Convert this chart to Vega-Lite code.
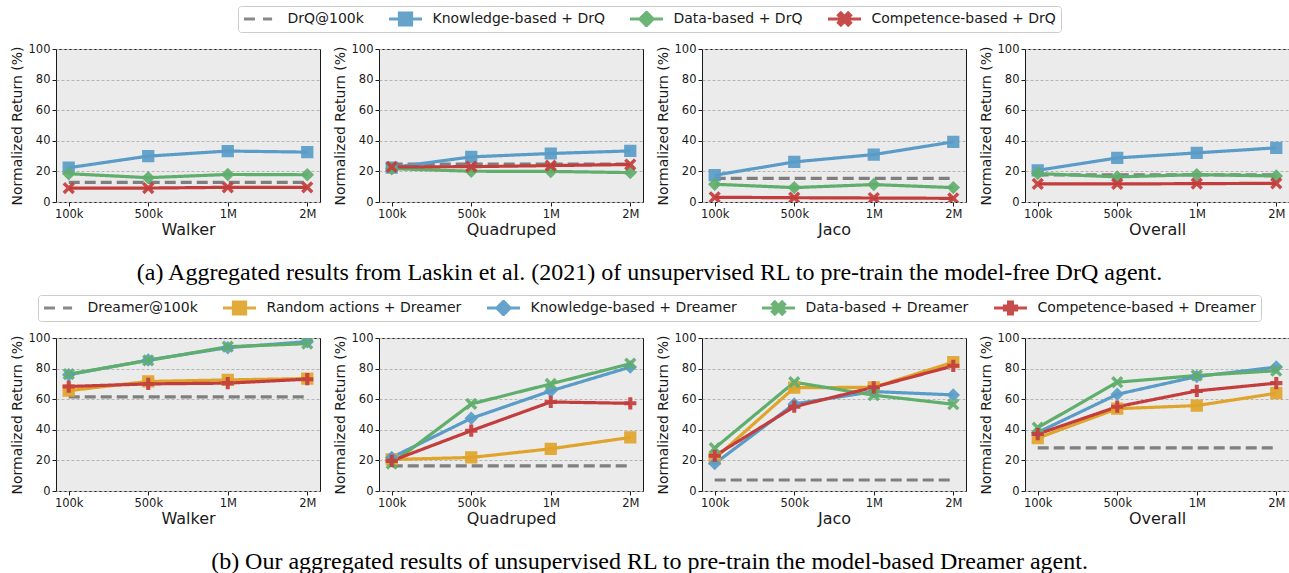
{
  "$schema": "https://vega.github.io/schema/vega-lite/v6.json",
  "padding": {"left": 9, "top": 5, "right": 0, "bottom": 0},
  "background": "white",
  "config": {
    "font": "DejaVu Sans",
    "view": {"fill": "#ebebeb", "stroke": "#1a1a1a", "strokeWidth": 1},
    "axis": {"domain": false, "tickColor": "#1a1a1a", "tickSize": 4, "labelColor": "#1a1a1a", "labelFontSize": 11.5, "labelFont": "DejaVu Sans", "titleFont": "DejaVu Sans", "titleFontWeight": "normal", "titleColor": "#1a1a1a", "labelPadding": 2},
    "axisX": {"grid": false, "titleFontSize": 16, "labelAngle": 0, "titlePadding": 2},
    "axisY": {"gridDash": [3, 2], "gridColor": "#b5b5b5", "titleFontSize": 14, "titlePadding": 4, "tickCount": 5},
    "legend": {"layout": {"top": {"anchor": "middle"}}}
  },
  "datasets": {
    "drq": [
      {"env": "Walker", "step": "100k", "method": "DrQ@100k", "value": 12.8},
      {"env": "Walker", "step": "500k", "method": "DrQ@100k", "value": 12.8},
      {"env": "Walker", "step": "1M", "method": "DrQ@100k", "value": 12.8},
      {"env": "Walker", "step": "2M", "method": "DrQ@100k", "value": 12.8},
      {"env": "Walker", "step": "100k", "method": "Knowledge-based + DrQ", "value": 22.4},
      {"env": "Walker", "step": "500k", "method": "Knowledge-based + DrQ", "value": 30},
      {"env": "Walker", "step": "1M", "method": "Knowledge-based + DrQ", "value": 33.3},
      {"env": "Walker", "step": "2M", "method": "Knowledge-based + DrQ", "value": 32.6},
      {"env": "Walker", "step": "100k", "method": "Data-based + DrQ", "value": 18.5},
      {"env": "Walker", "step": "500k", "method": "Data-based + DrQ", "value": 15.9},
      {"env": "Walker", "step": "1M", "method": "Data-based + DrQ", "value": 18},
      {"env": "Walker", "step": "2M", "method": "Data-based + DrQ", "value": 17.8},
      {"env": "Walker", "step": "100k", "method": "Competence-based + DrQ", "value": 9.1},
      {"env": "Walker", "step": "500k", "method": "Competence-based + DrQ", "value": 9.1},
      {"env": "Walker", "step": "1M", "method": "Competence-based + DrQ", "value": 9.6},
      {"env": "Walker", "step": "2M", "method": "Competence-based + DrQ", "value": 9.6},
      {"env": "Quadruped", "step": "100k", "method": "DrQ@100k", "value": 24.7},
      {"env": "Quadruped", "step": "500k", "method": "DrQ@100k", "value": 24.7},
      {"env": "Quadruped", "step": "1M", "method": "DrQ@100k", "value": 24.7},
      {"env": "Quadruped", "step": "2M", "method": "DrQ@100k", "value": 24.7},
      {"env": "Quadruped", "step": "100k", "method": "Knowledge-based + DrQ", "value": 22.5},
      {"env": "Quadruped", "step": "500k", "method": "Knowledge-based + DrQ", "value": 29.5},
      {"env": "Quadruped", "step": "1M", "method": "Knowledge-based + DrQ", "value": 31.7},
      {"env": "Quadruped", "step": "2M", "method": "Knowledge-based + DrQ", "value": 33.4},
      {"env": "Quadruped", "step": "100k", "method": "Data-based + DrQ", "value": 21.8},
      {"env": "Quadruped", "step": "500k", "method": "Data-based + DrQ", "value": 20.1},
      {"env": "Quadruped", "step": "1M", "method": "Data-based + DrQ", "value": 20},
      {"env": "Quadruped", "step": "2M", "method": "Data-based + DrQ", "value": 19.2},
      {"env": "Quadruped", "step": "100k", "method": "Competence-based + DrQ", "value": 22.9},
      {"env": "Quadruped", "step": "500k", "method": "Competence-based + DrQ", "value": 23.1},
      {"env": "Quadruped", "step": "1M", "method": "Competence-based + DrQ", "value": 23.8},
      {"env": "Quadruped", "step": "2M", "method": "Competence-based + DrQ", "value": 24.5},
      {"env": "Jaco", "step": "100k", "method": "DrQ@100k", "value": 15.5},
      {"env": "Jaco", "step": "500k", "method": "DrQ@100k", "value": 15.5},
      {"env": "Jaco", "step": "1M", "method": "DrQ@100k", "value": 15.5},
      {"env": "Jaco", "step": "2M", "method": "DrQ@100k", "value": 15.5},
      {"env": "Jaco", "step": "100k", "method": "Knowledge-based + DrQ", "value": 17.5},
      {"env": "Jaco", "step": "500k", "method": "Knowledge-based + DrQ", "value": 26.2},
      {"env": "Jaco", "step": "1M", "method": "Knowledge-based + DrQ", "value": 31},
      {"env": "Jaco", "step": "2M", "method": "Knowledge-based + DrQ", "value": 39.3},
      {"env": "Jaco", "step": "100k", "method": "Data-based + DrQ", "value": 11.6},
      {"env": "Jaco", "step": "500k", "method": "Data-based + DrQ", "value": 9.4},
      {"env": "Jaco", "step": "1M", "method": "Data-based + DrQ", "value": 11.4},
      {"env": "Jaco", "step": "2M", "method": "Data-based + DrQ", "value": 9.4},
      {"env": "Jaco", "step": "100k", "method": "Competence-based + DrQ", "value": 3.1},
      {"env": "Jaco", "step": "500k", "method": "Competence-based + DrQ", "value": 2.8},
      {"env": "Jaco", "step": "1M", "method": "Competence-based + DrQ", "value": 2.6},
      {"env": "Jaco", "step": "2M", "method": "Competence-based + DrQ", "value": 2.4},
      {"env": "Overall", "step": "100k", "method": "DrQ@100k", "value": 17.7},
      {"env": "Overall", "step": "500k", "method": "DrQ@100k", "value": 17.7},
      {"env": "Overall", "step": "1M", "method": "DrQ@100k", "value": 17.7},
      {"env": "Overall", "step": "2M", "method": "DrQ@100k", "value": 17.7},
      {"env": "Overall", "step": "100k", "method": "Knowledge-based + DrQ", "value": 20.7},
      {"env": "Overall", "step": "500k", "method": "Knowledge-based + DrQ", "value": 28.8},
      {"env": "Overall", "step": "1M", "method": "Knowledge-based + DrQ", "value": 32.1},
      {"env": "Overall", "step": "2M", "method": "Knowledge-based + DrQ", "value": 35.4},
      {"env": "Overall", "step": "100k", "method": "Data-based + DrQ", "value": 18.6},
      {"env": "Overall", "step": "500k", "method": "Data-based + DrQ", "value": 16.4},
      {"env": "Overall", "step": "1M", "method": "Data-based + DrQ", "value": 17.9},
      {"env": "Overall", "step": "2M", "method": "Data-based + DrQ", "value": 17},
      {"env": "Overall", "step": "100k", "method": "Competence-based + DrQ", "value": 11.8},
      {"env": "Overall", "step": "500k", "method": "Competence-based + DrQ", "value": 11.8},
      {"env": "Overall", "step": "1M", "method": "Competence-based + DrQ", "value": 12},
      {"env": "Overall", "step": "2M", "method": "Competence-based + DrQ", "value": 12.2}
    ],
    "dreamer": [
      {"env": "Walker", "step": "100k", "method": "Dreamer@100k", "value": 61.5},
      {"env": "Walker", "step": "500k", "method": "Dreamer@100k", "value": 61.5},
      {"env": "Walker", "step": "1M", "method": "Dreamer@100k", "value": 61.5},
      {"env": "Walker", "step": "2M", "method": "Dreamer@100k", "value": 61.5},
      {"env": "Walker", "step": "100k", "method": "Random actions + Dreamer", "value": 65.6},
      {"env": "Walker", "step": "500k", "method": "Random actions + Dreamer", "value": 71.6},
      {"env": "Walker", "step": "1M", "method": "Random actions + Dreamer", "value": 72.6},
      {"env": "Walker", "step": "2M", "method": "Random actions + Dreamer", "value": 73.5},
      {"env": "Walker", "step": "100k", "method": "Knowledge-based + Dreamer", "value": 76},
      {"env": "Walker", "step": "500k", "method": "Knowledge-based + Dreamer", "value": 85.6},
      {"env": "Walker", "step": "1M", "method": "Knowledge-based + Dreamer", "value": 93.7},
      {"env": "Walker", "step": "2M", "method": "Knowledge-based + Dreamer", "value": 97.6},
      {"env": "Walker", "step": "100k", "method": "Data-based + Dreamer", "value": 76.4},
      {"env": "Walker", "step": "500k", "method": "Data-based + Dreamer", "value": 85.3},
      {"env": "Walker", "step": "1M", "method": "Data-based + Dreamer", "value": 94.3},
      {"env": "Walker", "step": "2M", "method": "Data-based + Dreamer", "value": 96.3},
      {"env": "Walker", "step": "100k", "method": "Competence-based + Dreamer", "value": 68.3},
      {"env": "Walker", "step": "500k", "method": "Competence-based + Dreamer", "value": 70},
      {"env": "Walker", "step": "1M", "method": "Competence-based + Dreamer", "value": 70.5},
      {"env": "Walker", "step": "2M", "method": "Competence-based + Dreamer", "value": 73.1},
      {"env": "Quadruped", "step": "100k", "method": "Dreamer@100k", "value": 16.4},
      {"env": "Quadruped", "step": "500k", "method": "Dreamer@100k", "value": 16.4},
      {"env": "Quadruped", "step": "1M", "method": "Dreamer@100k", "value": 16.4},
      {"env": "Quadruped", "step": "2M", "method": "Dreamer@100k", "value": 16.4},
      {"env": "Quadruped", "step": "100k", "method": "Random actions + Dreamer", "value": 20.6},
      {"env": "Quadruped", "step": "500k", "method": "Random actions + Dreamer", "value": 21.9},
      {"env": "Quadruped", "step": "1M", "method": "Random actions + Dreamer", "value": 27.6},
      {"env": "Quadruped", "step": "2M", "method": "Random actions + Dreamer", "value": 35},
      {"env": "Quadruped", "step": "100k", "method": "Knowledge-based + Dreamer", "value": 21.9},
      {"env": "Quadruped", "step": "500k", "method": "Knowledge-based + Dreamer", "value": 47.5},
      {"env": "Quadruped", "step": "1M", "method": "Knowledge-based + Dreamer", "value": 65.4},
      {"env": "Quadruped", "step": "2M", "method": "Knowledge-based + Dreamer", "value": 81},
      {"env": "Quadruped", "step": "100k", "method": "Data-based + Dreamer", "value": 17.9},
      {"env": "Quadruped", "step": "500k", "method": "Data-based + Dreamer", "value": 56.9},
      {"env": "Quadruped", "step": "1M", "method": "Data-based + Dreamer", "value": 70},
      {"env": "Quadruped", "step": "2M", "method": "Data-based + Dreamer", "value": 83.2},
      {"env": "Quadruped", "step": "100k", "method": "Competence-based + Dreamer", "value": 19.7},
      {"env": "Quadruped", "step": "500k", "method": "Competence-based + Dreamer", "value": 39.4},
      {"env": "Quadruped", "step": "1M", "method": "Competence-based + Dreamer", "value": 58.2},
      {"env": "Quadruped", "step": "2M", "method": "Competence-based + Dreamer", "value": 57.3},
      {"env": "Jaco", "step": "100k", "method": "Dreamer@100k", "value": 7.2},
      {"env": "Jaco", "step": "500k", "method": "Dreamer@100k", "value": 7.2},
      {"env": "Jaco", "step": "1M", "method": "Dreamer@100k", "value": 7.2},
      {"env": "Jaco", "step": "2M", "method": "Dreamer@100k", "value": 7.2},
      {"env": "Jaco", "step": "100k", "method": "Random actions + Dreamer", "value": 21.2},
      {"env": "Jaco", "step": "500k", "method": "Random actions + Dreamer", "value": 67.5},
      {"env": "Jaco", "step": "1M", "method": "Random actions + Dreamer", "value": 67.8},
      {"env": "Jaco", "step": "2M", "method": "Random actions + Dreamer", "value": 84.2},
      {"env": "Jaco", "step": "100k", "method": "Knowledge-based + Dreamer", "value": 17.9},
      {"env": "Jaco", "step": "500k", "method": "Knowledge-based + Dreamer", "value": 56.9},
      {"env": "Jaco", "step": "1M", "method": "Knowledge-based + Dreamer", "value": 65},
      {"env": "Jaco", "step": "2M", "method": "Knowledge-based + Dreamer", "value": 62.8},
      {"env": "Jaco", "step": "100k", "method": "Data-based + Dreamer", "value": 28},
      {"env": "Jaco", "step": "500k", "method": "Data-based + Dreamer", "value": 71.1},
      {"env": "Jaco", "step": "1M", "method": "Data-based + Dreamer", "value": 62.6},
      {"env": "Jaco", "step": "2M", "method": "Data-based + Dreamer", "value": 56.7},
      {"env": "Jaco", "step": "100k", "method": "Competence-based + Dreamer", "value": 23},
      {"env": "Jaco", "step": "500k", "method": "Competence-based + Dreamer", "value": 55.1},
      {"env": "Jaco", "step": "1M", "method": "Competence-based + Dreamer", "value": 67.8},
      {"env": "Jaco", "step": "2M", "method": "Competence-based + Dreamer", "value": 81.8},
      {"env": "Overall", "step": "100k", "method": "Dreamer@100k", "value": 28.2},
      {"env": "Overall", "step": "500k", "method": "Dreamer@100k", "value": 28.2},
      {"env": "Overall", "step": "1M", "method": "Dreamer@100k", "value": 28.2},
      {"env": "Overall", "step": "2M", "method": "Dreamer@100k", "value": 28.2},
      {"env": "Overall", "step": "100k", "method": "Random actions + Dreamer", "value": 34.6},
      {"env": "Overall", "step": "500k", "method": "Random actions + Dreamer", "value": 53.8},
      {"env": "Overall", "step": "1M", "method": "Random actions + Dreamer", "value": 55.8},
      {"env": "Overall", "step": "2M", "method": "Random actions + Dreamer", "value": 63.9},
      {"env": "Overall", "step": "100k", "method": "Knowledge-based + Dreamer", "value": 38.3},
      {"env": "Overall", "step": "500k", "method": "Knowledge-based + Dreamer", "value": 63.2},
      {"env": "Overall", "step": "1M", "method": "Knowledge-based + Dreamer", "value": 74.8},
      {"env": "Overall", "step": "2M", "method": "Knowledge-based + Dreamer", "value": 81},
      {"env": "Overall", "step": "100k", "method": "Data-based + Dreamer", "value": 41.4},
      {"env": "Overall", "step": "500k", "method": "Data-based + Dreamer", "value": 71.1},
      {"env": "Overall", "step": "1M", "method": "Data-based + Dreamer", "value": 75.5},
      {"env": "Overall", "step": "2M", "method": "Data-based + Dreamer", "value": 78.6},
      {"env": "Overall", "step": "100k", "method": "Competence-based + Dreamer", "value": 37.2},
      {"env": "Overall", "step": "500k", "method": "Competence-based + Dreamer", "value": 55.1},
      {"env": "Overall", "step": "1M", "method": "Competence-based + Dreamer", "value": 65.4},
      {"env": "Overall", "step": "2M", "method": "Competence-based + Dreamer", "value": 70.5}
    ]
  },
  "spacing": 9,
  "resolve": {"scale": {"color": "independent", "shape": "independent", "strokeDash": "independent"}, "legend": {"color": "independent"}},
  "vconcat": [
    {
      "data": {"name": "drq"},
      "title": {"text": "(a) Aggregated results from Laskin et al. (2021) of unsupervised RL to pre-train the model-free DrQ agent.", "orient": "bottom", "anchor": "middle", "font": "Liberation Serif", "fontSize": 24, "fontWeight": "normal", "color": "#000000", "offset": 23},
      "spacing": 11,
      "hconcat": [
        {
          "width": 264, "height": 153,
          "transform": [{"filter": "datum.env === 'Walker'"}],
          "encoding": {
            "x": {"field": "step", "type": "ordinal", "sort": ["100k", "500k", "1M", "2M"], "scale": {"type": "point", "padding": 0.16}, "title": "Walker"},
            "y": {"field": "value", "type": "quantitative", "scale": {"domain": [0, 100]}, "title": "Normalized Return (%)"},
            "color": {"field": "method", "type": "nominal", "scale": {"domain": ["DrQ@100k", "Knowledge-based + DrQ", "Data-based + DrQ", "Competence-based + DrQ"], "range": ["#7f7f7f", "#5a9cc7", "#5fae6b", "#c33d3d"]},
              "legend": {"orient": "top", "direction": "horizontal", "title": null, "labelFont": "DejaVu Sans", "labelFontSize": 14, "labelColor": "#1a1a1a", "labelLimit": 400, "symbolSize": 150, "symbolStrokeWidth": 3, "symbolOpacity": 1, "symbolOffset": 9.5, "labelOffset": 19, "columnPadding": 24, "padding": 5, "strokeColor": "#cccccc", "fillColor": "white", "cornerRadius": 3, "offset": 10, "clipHeight": 16}}
          },
          "layer": [
            {"mark": {"type": "line", "strokeWidth": 3.2, "clip": true}, "encoding": {"strokeDash": {"field": "method", "type": "nominal", "scale": {"domain": ["DrQ@100k", "Knowledge-based + DrQ", "Data-based + DrQ", "Competence-based + DrQ"], "range": [[11, 5], [1, 0], [1, 0], [1, 0]]}, "legend": null}}},
            {"transform": [{"filter": "datum.method !== 'DrQ@100k'"}], "mark": {"type": "point", "filled": true, "size": 150, "opacity": 0.92, "clip": true}, "encoding": {"shape": {"field": "method", "type": "nominal", "scale": {"domain": ["DrQ@100k", "Knowledge-based + DrQ", "Data-based + DrQ", "Competence-based + DrQ"], "range": ["M-2.7,0L-0.57,0M0.41,0L1.89,0", "M-2.7,0L2.7,0M-1,-1L1,-1L1,1L-1,1Z", "M-2.7,0L2.7,0M0,-1.1L1.1,0L0,1.1L-1.1,0Z", "M-2.7,0L2.7,0M-0.6,-1L0,-0.4L0.6,-1L1,-0.6L0.4,0L1,0.6L0.6,1L0,0.4L-0.6,1L-1,0.6L-0.4,0L-1,-0.6Z"]}, "legend": null}}}
          ]
        },
        {
          "width": 264, "height": 153,
          "transform": [{"filter": "datum.env === 'Quadruped'"}],
          "encoding": {
            "x": {"field": "step", "type": "ordinal", "sort": ["100k", "500k", "1M", "2M"], "scale": {"type": "point", "padding": 0.16}, "title": "Quadruped"},
            "y": {"field": "value", "type": "quantitative", "scale": {"domain": [0, 100]}, "title": "Normalized Return (%)"},
            "color": {"field": "method", "type": "nominal", "scale": {"domain": ["DrQ@100k", "Knowledge-based + DrQ", "Data-based + DrQ", "Competence-based + DrQ"], "range": ["#7f7f7f", "#5a9cc7", "#5fae6b", "#c33d3d"]}}
          },
          "layer": [
            {"mark": {"type": "line", "strokeWidth": 3.2, "clip": true}, "encoding": {"strokeDash": {"field": "method", "type": "nominal", "scale": {"domain": ["DrQ@100k", "Knowledge-based + DrQ", "Data-based + DrQ", "Competence-based + DrQ"], "range": [[11, 5], [1, 0], [1, 0], [1, 0]]}, "legend": null}}},
            {"transform": [{"filter": "datum.method !== 'DrQ@100k'"}], "mark": {"type": "point", "filled": true, "size": 150, "opacity": 0.92, "clip": true}, "encoding": {"shape": {"field": "method", "type": "nominal", "scale": {"domain": ["DrQ@100k", "Knowledge-based + DrQ", "Data-based + DrQ", "Competence-based + DrQ"], "range": ["M-2.7,0L-0.57,0M0.41,0L1.89,0", "M-2.7,0L2.7,0M-1,-1L1,-1L1,1L-1,1Z", "M-2.7,0L2.7,0M0,-1.1L1.1,0L0,1.1L-1.1,0Z", "M-2.7,0L2.7,0M-0.6,-1L0,-0.4L0.6,-1L1,-0.6L0.4,0L1,0.6L0.6,1L0,0.4L-0.6,1L-1,0.6L-0.4,0L-1,-0.6Z"]}, "legend": null}}}
          ]
        },
        {
          "width": 264, "height": 153,
          "transform": [{"filter": "datum.env === 'Jaco'"}],
          "encoding": {
            "x": {"field": "step", "type": "ordinal", "sort": ["100k", "500k", "1M", "2M"], "scale": {"type": "point", "padding": 0.16}, "title": "Jaco"},
            "y": {"field": "value", "type": "quantitative", "scale": {"domain": [0, 100]}, "title": "Normalized Return (%)"},
            "color": {"field": "method", "type": "nominal", "scale": {"domain": ["DrQ@100k", "Knowledge-based + DrQ", "Data-based + DrQ", "Competence-based + DrQ"], "range": ["#7f7f7f", "#5a9cc7", "#5fae6b", "#c33d3d"]}}
          },
          "layer": [
            {"mark": {"type": "line", "strokeWidth": 3.2, "clip": true}, "encoding": {"strokeDash": {"field": "method", "type": "nominal", "scale": {"domain": ["DrQ@100k", "Knowledge-based + DrQ", "Data-based + DrQ", "Competence-based + DrQ"], "range": [[11, 5], [1, 0], [1, 0], [1, 0]]}, "legend": null}}},
            {"transform": [{"filter": "datum.method !== 'DrQ@100k'"}], "mark": {"type": "point", "filled": true, "size": 150, "opacity": 0.92, "clip": true}, "encoding": {"shape": {"field": "method", "type": "nominal", "scale": {"domain": ["DrQ@100k", "Knowledge-based + DrQ", "Data-based + DrQ", "Competence-based + DrQ"], "range": ["M-2.7,0L-0.57,0M0.41,0L1.89,0", "M-2.7,0L2.7,0M-1,-1L1,-1L1,1L-1,1Z", "M-2.7,0L2.7,0M0,-1.1L1.1,0L0,1.1L-1.1,0Z", "M-2.7,0L2.7,0M-0.6,-1L0,-0.4L0.6,-1L1,-0.6L0.4,0L1,0.6L0.6,1L0,0.4L-0.6,1L-1,0.6L-0.4,0L-1,-0.6Z"]}, "legend": null}}}
          ]
        },
        {
          "width": 264, "height": 153,
          "transform": [{"filter": "datum.env === 'Overall'"}],
          "encoding": {
            "x": {"field": "step", "type": "ordinal", "sort": ["100k", "500k", "1M", "2M"], "scale": {"type": "point", "padding": 0.16}, "title": "Overall"},
            "y": {"field": "value", "type": "quantitative", "scale": {"domain": [0, 100]}, "title": "Normalized Return (%)"},
            "color": {"field": "method", "type": "nominal", "scale": {"domain": ["DrQ@100k", "Knowledge-based + DrQ", "Data-based + DrQ", "Competence-based + DrQ"], "range": ["#7f7f7f", "#5a9cc7", "#5fae6b", "#c33d3d"]}}
          },
          "layer": [
            {"mark": {"type": "line", "strokeWidth": 3.2, "clip": true}, "encoding": {"strokeDash": {"field": "method", "type": "nominal", "scale": {"domain": ["DrQ@100k", "Knowledge-based + DrQ", "Data-based + DrQ", "Competence-based + DrQ"], "range": [[11, 5], [1, 0], [1, 0], [1, 0]]}, "legend": null}}},
            {"transform": [{"filter": "datum.method !== 'DrQ@100k'"}], "mark": {"type": "point", "filled": true, "size": 150, "opacity": 0.92, "clip": true}, "encoding": {"shape": {"field": "method", "type": "nominal", "scale": {"domain": ["DrQ@100k", "Knowledge-based + DrQ", "Data-based + DrQ", "Competence-based + DrQ"], "range": ["M-2.7,0L-0.57,0M0.41,0L1.89,0", "M-2.7,0L2.7,0M-1,-1L1,-1L1,1L-1,1Z", "M-2.7,0L2.7,0M0,-1.1L1.1,0L0,1.1L-1.1,0Z", "M-2.7,0L2.7,0M-0.6,-1L0,-0.4L0.6,-1L1,-0.6L0.4,0L1,0.6L0.6,1L0,0.4L-0.6,1L-1,0.6L-0.4,0L-1,-0.6Z"]}, "legend": null}}}
          ]
        }
      ]
    },
    {
      "data": {"name": "dreamer"},
      "title": {"text": "(b) Our aggregated results of unsupervised RL to pre-train the model-based Dreamer agent.", "orient": "bottom", "anchor": "middle", "font": "Liberation Serif", "fontSize": 24, "fontWeight": "normal", "color": "#000000", "offset": 23},
      "spacing": 11,
      "hconcat": [
        {
          "width": 264, "height": 153,
          "transform": [{"filter": "datum.env === 'Walker'"}],
          "encoding": {
            "x": {"field": "step", "type": "ordinal", "sort": ["100k", "500k", "1M", "2M"], "scale": {"type": "point", "padding": 0.16}, "title": "Walker"},
            "y": {"field": "value", "type": "quantitative", "scale": {"domain": [0, 100]}, "title": "Normalized Return (%)"},
            "color": {"field": "method", "type": "nominal", "scale": {"domain": ["Dreamer@100k", "Random actions + Dreamer", "Knowledge-based + Dreamer", "Data-based + Dreamer", "Competence-based + Dreamer"], "range": ["#7f7f7f", "#dfa42b", "#5a9cc7", "#5fae6b", "#c33d3d"]},
              "legend": {"orient": "top", "direction": "horizontal", "title": null, "labelFont": "DejaVu Sans", "labelFontSize": 14, "labelColor": "#1a1a1a", "labelLimit": 400, "symbolSize": 150, "symbolStrokeWidth": 3, "symbolOpacity": 1, "symbolOffset": 9.5, "labelOffset": 19, "columnPadding": 24, "padding": 5, "strokeColor": "#cccccc", "fillColor": "white", "cornerRadius": 3, "offset": 10, "clipHeight": 16}}
          },
          "layer": [
            {"mark": {"type": "line", "strokeWidth": 3.2, "clip": true}, "encoding": {"strokeDash": {"field": "method", "type": "nominal", "scale": {"domain": ["Dreamer@100k", "Random actions + Dreamer", "Knowledge-based + Dreamer", "Data-based + Dreamer", "Competence-based + Dreamer"], "range": [[11, 5], [1, 0], [1, 0], [1, 0], [1, 0]]}, "legend": null}}},
            {"transform": [{"filter": "datum.method !== 'Dreamer@100k'"}], "mark": {"type": "point", "filled": true, "size": 150, "opacity": 0.92, "clip": true}, "encoding": {"shape": {"field": "method", "type": "nominal", "scale": {"domain": ["Dreamer@100k", "Random actions + Dreamer", "Knowledge-based + Dreamer", "Data-based + Dreamer", "Competence-based + Dreamer"], "range": ["M-2.7,0L-0.57,0M0.41,0L1.89,0", "M-2.7,0L2.7,0M-1,-1L1,-1L1,1L-1,1Z", "M-2.7,0L2.7,0M0,-1.1L1.1,0L0,1.1L-1.1,0Z", "M-2.7,0L2.7,0M-0.6,-1L0,-0.4L0.6,-1L1,-0.6L0.4,0L1,0.6L0.6,1L0,0.4L-0.6,1L-1,0.6L-0.4,0L-1,-0.6Z", "M-2.7,0L2.7,0M-0.33,-1L0.33,-1L0.33,-0.33L1,-0.33L1,0.33L0.33,0.33L0.33,1L-0.33,1L-0.33,0.33L-1,0.33L-1,-0.33L-0.33,-0.33Z"]}, "legend": null}}}
          ]
        },
        {
          "width": 264, "height": 153,
          "transform": [{"filter": "datum.env === 'Quadruped'"}],
          "encoding": {
            "x": {"field": "step", "type": "ordinal", "sort": ["100k", "500k", "1M", "2M"], "scale": {"type": "point", "padding": 0.16}, "title": "Quadruped"},
            "y": {"field": "value", "type": "quantitative", "scale": {"domain": [0, 100]}, "title": "Normalized Return (%)"},
            "color": {"field": "method", "type": "nominal", "scale": {"domain": ["Dreamer@100k", "Random actions + Dreamer", "Knowledge-based + Dreamer", "Data-based + Dreamer", "Competence-based + Dreamer"], "range": ["#7f7f7f", "#dfa42b", "#5a9cc7", "#5fae6b", "#c33d3d"]}}
          },
          "layer": [
            {"mark": {"type": "line", "strokeWidth": 3.2, "clip": true}, "encoding": {"strokeDash": {"field": "method", "type": "nominal", "scale": {"domain": ["Dreamer@100k", "Random actions + Dreamer", "Knowledge-based + Dreamer", "Data-based + Dreamer", "Competence-based + Dreamer"], "range": [[11, 5], [1, 0], [1, 0], [1, 0], [1, 0]]}, "legend": null}}},
            {"transform": [{"filter": "datum.method !== 'Dreamer@100k'"}], "mark": {"type": "point", "filled": true, "size": 150, "opacity": 0.92, "clip": true}, "encoding": {"shape": {"field": "method", "type": "nominal", "scale": {"domain": ["Dreamer@100k", "Random actions + Dreamer", "Knowledge-based + Dreamer", "Data-based + Dreamer", "Competence-based + Dreamer"], "range": ["M-2.7,0L-0.57,0M0.41,0L1.89,0", "M-2.7,0L2.7,0M-1,-1L1,-1L1,1L-1,1Z", "M-2.7,0L2.7,0M0,-1.1L1.1,0L0,1.1L-1.1,0Z", "M-2.7,0L2.7,0M-0.6,-1L0,-0.4L0.6,-1L1,-0.6L0.4,0L1,0.6L0.6,1L0,0.4L-0.6,1L-1,0.6L-0.4,0L-1,-0.6Z", "M-2.7,0L2.7,0M-0.33,-1L0.33,-1L0.33,-0.33L1,-0.33L1,0.33L0.33,0.33L0.33,1L-0.33,1L-0.33,0.33L-1,0.33L-1,-0.33L-0.33,-0.33Z"]}, "legend": null}}}
          ]
        },
        {
          "width": 264, "height": 153,
          "transform": [{"filter": "datum.env === 'Jaco'"}],
          "encoding": {
            "x": {"field": "step", "type": "ordinal", "sort": ["100k", "500k", "1M", "2M"], "scale": {"type": "point", "padding": 0.16}, "title": "Jaco"},
            "y": {"field": "value", "type": "quantitative", "scale": {"domain": [0, 100]}, "title": "Normalized Return (%)"},
            "color": {"field": "method", "type": "nominal", "scale": {"domain": ["Dreamer@100k", "Random actions + Dreamer", "Knowledge-based + Dreamer", "Data-based + Dreamer", "Competence-based + Dreamer"], "range": ["#7f7f7f", "#dfa42b", "#5a9cc7", "#5fae6b", "#c33d3d"]}}
          },
          "layer": [
            {"mark": {"type": "line", "strokeWidth": 3.2, "clip": true}, "encoding": {"strokeDash": {"field": "method", "type": "nominal", "scale": {"domain": ["Dreamer@100k", "Random actions + Dreamer", "Knowledge-based + Dreamer", "Data-based + Dreamer", "Competence-based + Dreamer"], "range": [[11, 5], [1, 0], [1, 0], [1, 0], [1, 0]]}, "legend": null}}},
            {"transform": [{"filter": "datum.method !== 'Dreamer@100k'"}], "mark": {"type": "point", "filled": true, "size": 150, "opacity": 0.92, "clip": true}, "encoding": {"shape": {"field": "method", "type": "nominal", "scale": {"domain": ["Dreamer@100k", "Random actions + Dreamer", "Knowledge-based + Dreamer", "Data-based + Dreamer", "Competence-based + Dreamer"], "range": ["M-2.7,0L-0.57,0M0.41,0L1.89,0", "M-2.7,0L2.7,0M-1,-1L1,-1L1,1L-1,1Z", "M-2.7,0L2.7,0M0,-1.1L1.1,0L0,1.1L-1.1,0Z", "M-2.7,0L2.7,0M-0.6,-1L0,-0.4L0.6,-1L1,-0.6L0.4,0L1,0.6L0.6,1L0,0.4L-0.6,1L-1,0.6L-0.4,0L-1,-0.6Z", "M-2.7,0L2.7,0M-0.33,-1L0.33,-1L0.33,-0.33L1,-0.33L1,0.33L0.33,0.33L0.33,1L-0.33,1L-0.33,0.33L-1,0.33L-1,-0.33L-0.33,-0.33Z"]}, "legend": null}}}
          ]
        },
        {
          "width": 264, "height": 153,
          "transform": [{"filter": "datum.env === 'Overall'"}],
          "encoding": {
            "x": {"field": "step", "type": "ordinal", "sort": ["100k", "500k", "1M", "2M"], "scale": {"type": "point", "padding": 0.16}, "title": "Overall"},
            "y": {"field": "value", "type": "quantitative", "scale": {"domain": [0, 100]}, "title": "Normalized Return (%)"},
            "color": {"field": "method", "type": "nominal", "scale": {"domain": ["Dreamer@100k", "Random actions + Dreamer", "Knowledge-based + Dreamer", "Data-based + Dreamer", "Competence-based + Dreamer"], "range": ["#7f7f7f", "#dfa42b", "#5a9cc7", "#5fae6b", "#c33d3d"]}}
          },
          "layer": [
            {"mark": {"type": "line", "strokeWidth": 3.2, "clip": true}, "encoding": {"strokeDash": {"field": "method", "type": "nominal", "scale": {"domain": ["Dreamer@100k", "Random actions + Dreamer", "Knowledge-based + Dreamer", "Data-based + Dreamer", "Competence-based + Dreamer"], "range": [[11, 5], [1, 0], [1, 0], [1, 0], [1, 0]]}, "legend": null}}},
            {"transform": [{"filter": "datum.method !== 'Dreamer@100k'"}], "mark": {"type": "point", "filled": true, "size": 150, "opacity": 0.92, "clip": true}, "encoding": {"shape": {"field": "method", "type": "nominal", "scale": {"domain": ["Dreamer@100k", "Random actions + Dreamer", "Knowledge-based + Dreamer", "Data-based + Dreamer", "Competence-based + Dreamer"], "range": ["M-2.7,0L-0.57,0M0.41,0L1.89,0", "M-2.7,0L2.7,0M-1,-1L1,-1L1,1L-1,1Z", "M-2.7,0L2.7,0M0,-1.1L1.1,0L0,1.1L-1.1,0Z", "M-2.7,0L2.7,0M-0.6,-1L0,-0.4L0.6,-1L1,-0.6L0.4,0L1,0.6L0.6,1L0,0.4L-0.6,1L-1,0.6L-0.4,0L-1,-0.6Z", "M-2.7,0L2.7,0M-0.33,-1L0.33,-1L0.33,-0.33L1,-0.33L1,0.33L0.33,0.33L0.33,1L-0.33,1L-0.33,0.33L-1,0.33L-1,-0.33L-0.33,-0.33Z"]}, "legend": null}}}
          ]
        }
      ]
    }
  ]
}
